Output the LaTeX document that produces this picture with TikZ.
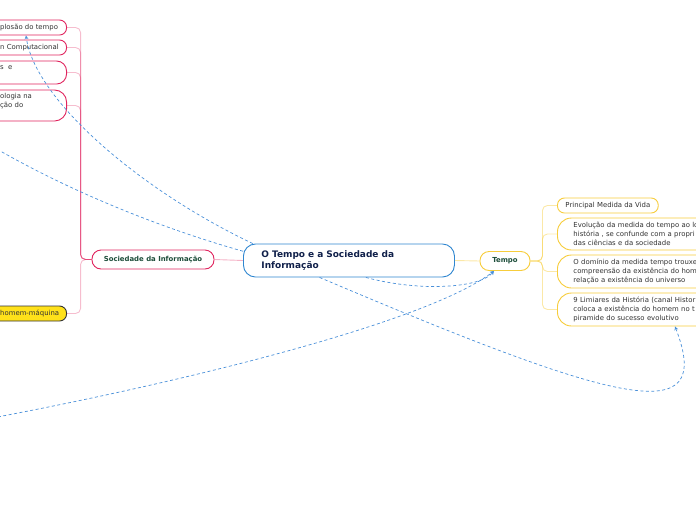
\documentclass[tikz,border=0pt]{standalone}
\usepackage{fontspec}
\setmainfont{DejaVu Sans}
\begin{document}
\begin{tikzpicture}[x=1pt,y=-1pt,>=stealth]
\definecolor{rootcolor}{RGB}{47,134,208}
\definecolor{roottext}{RGB}{16,32,74}
\definecolor{pinkcolor}{RGB}{224,36,94}
\definecolor{yellowcolor}{RGB}{247,205,60}
\definecolor{greentext}{RGB}{29,77,58}
\definecolor{leaftext}{RGB}{51,51,51}
\definecolor{relcolor}{RGB}{74,144,217}
\definecolor{markfill}{RGB}{255,225,26}
\tikzstyle{box}=[draw,line width=0.9pt,fill=white,inner sep=0pt]
\tikzstyle{root}=[box,draw=rootcolor,text=roottext,rounded corners=12pt,font=\fontsize{9}{11}\selectfont\bfseries,align=left,anchor=west,text width=175pt,inner xsep=18pt,minimum height=33pt]
\tikzstyle{topic}=[box,text=greentext,rounded corners=9pt,font=\fontsize{6.9}{8}\selectfont\bfseries,minimum height=19pt]
\tikzstyle{pinkleaf}=[box,draw=pinkcolor,rounded corners=7pt,anchor=east,minimum width=180pt]
\tikzstyle{yellowleaf}=[box,draw=yellowcolor,rounded corners=7pt,anchor=west,text=leaftext,font=\fontsize{6.9}{9}\selectfont,align=left]
\tikzstyle{leaflabel}=[text=leaftext,font=\fontsize{6.9}{9}\selectfont,align=left,anchor=west,inner sep=0pt]
\tikzstyle{pinkbranch}=[draw=pinkcolor,draw opacity=0.3,line width=0.9pt,rounded corners=5pt]
\tikzstyle{yellowbranch}=[draw=yellowcolor,draw opacity=0.45,line width=0.9pt,rounded corners=5pt]
\tikzstyle{relation}=[draw=relcolor,line width=0.7pt,dash pattern=on 3pt off 2.5pt]
\useasboundingbox (0,0) rectangle (696,520);
% main topic and subtopics
\node[root] (0) at (243,260.5) {O Tempo e a Sociedade da\\Informação};
\node[topic,draw=pinkcolor,minimum width=122pt] (1) at (153,259.5) {Sociedade da Informação};
\node[topic,draw=yellowcolor,minimum width=50pt] (7) at (505,261) {Tempo};
% left leaves
\node[pinkleaf,minimum height=15pt] (2) at (67,27.5) {};
\node[pinkleaf,minimum height=15pt] (3) at (67,47.5) {};
\node[pinkleaf,minimum height=23pt,rounded corners=10pt] (4) at (67,72.5) {};
\node[pinkleaf,minimum height=31pt,rounded corners=12pt] (5) at (67,105.5) {};
\node[pinkleaf,minimum height=15pt,draw=leaftext,fill=markfill] (6) at (67,313.5) {};
\node[leaflabel] (t2) at (0,27.5) {plosão do tempo};
\node[leaflabel] (t3) at (0,47.5) {n Computacional};
\node[leaflabel] (t4) at (0,68) {s\ \ e};
\node[leaflabel] (t5) at (0,101.5) {ologia na\\ção do};
\node[leaflabel] (t6) at (0,313.5) {homem-máquina};
% right leaves
\node[yellowleaf,inner xsep=8pt,minimum height=15pt] (8) at (557,205.5) {Principal Medida da Vida};
\node[yellowleaf,rounded corners=14pt,text width=200pt,inner xsep=16pt,minimum height=32pt] (9) at (557,234) {Evolução da medida do tempo ao lo\\história , se confunde com a propri\\das ciências e da sociedade};
\node[yellowleaf,rounded corners=14pt,text width=200pt,inner xsep=16pt,minimum height=33pt] (10) at (557,271.5) {O domínio da medida tempo trouxe\\compreensão da existência do hom\\relação a existência do universo};
\node[yellowleaf,rounded corners=14pt,text width=200pt,inner xsep=16pt,minimum height=33pt] (11) at (557,309.5) {9 Limiares da História (canal Histor\\coloca a existência do homem no t\\piramide do sucesso evolutivo};
% branches
\draw[pinkbranch,draw opacity=0.35] (0.west) -- (1.east);
\draw[yellowbranch] (0.east) -- (7.west);
\foreach \n in {2,3,4,5,6}
  \draw[pinkbranch] (1.west) -- ++(-11,0) |- (\n.east);
\foreach \n in {8,9,10,11}
  \draw[yellowbranch] (7.east) -- ++(12,0) |- (\n.west);
% relationships
\coordinate (c1) at (-50,120);
\coordinate (c2) at (-40,424);
\draw[relation,->] (0.170) .. controls (140,190) and (35,100) .. ([xshift=-41pt]2.south east);
\draw[relation,->] (0.175) .. controls (150,225) and (40,180) .. (c1);
\draw[relation,->] (0.210) .. controls (620,405) and (715,430) .. ([xshift=118pt]11.south west);
\draw[relation,->] (0.315) .. controls (420,292) and (480,288) .. ([xshift=-11pt]7.south);
\draw[relation,->] (c2) .. controls (200,380) and (430,320) .. ([xshift=-11pt]7.south);
\end{tikzpicture}
\end{document}
